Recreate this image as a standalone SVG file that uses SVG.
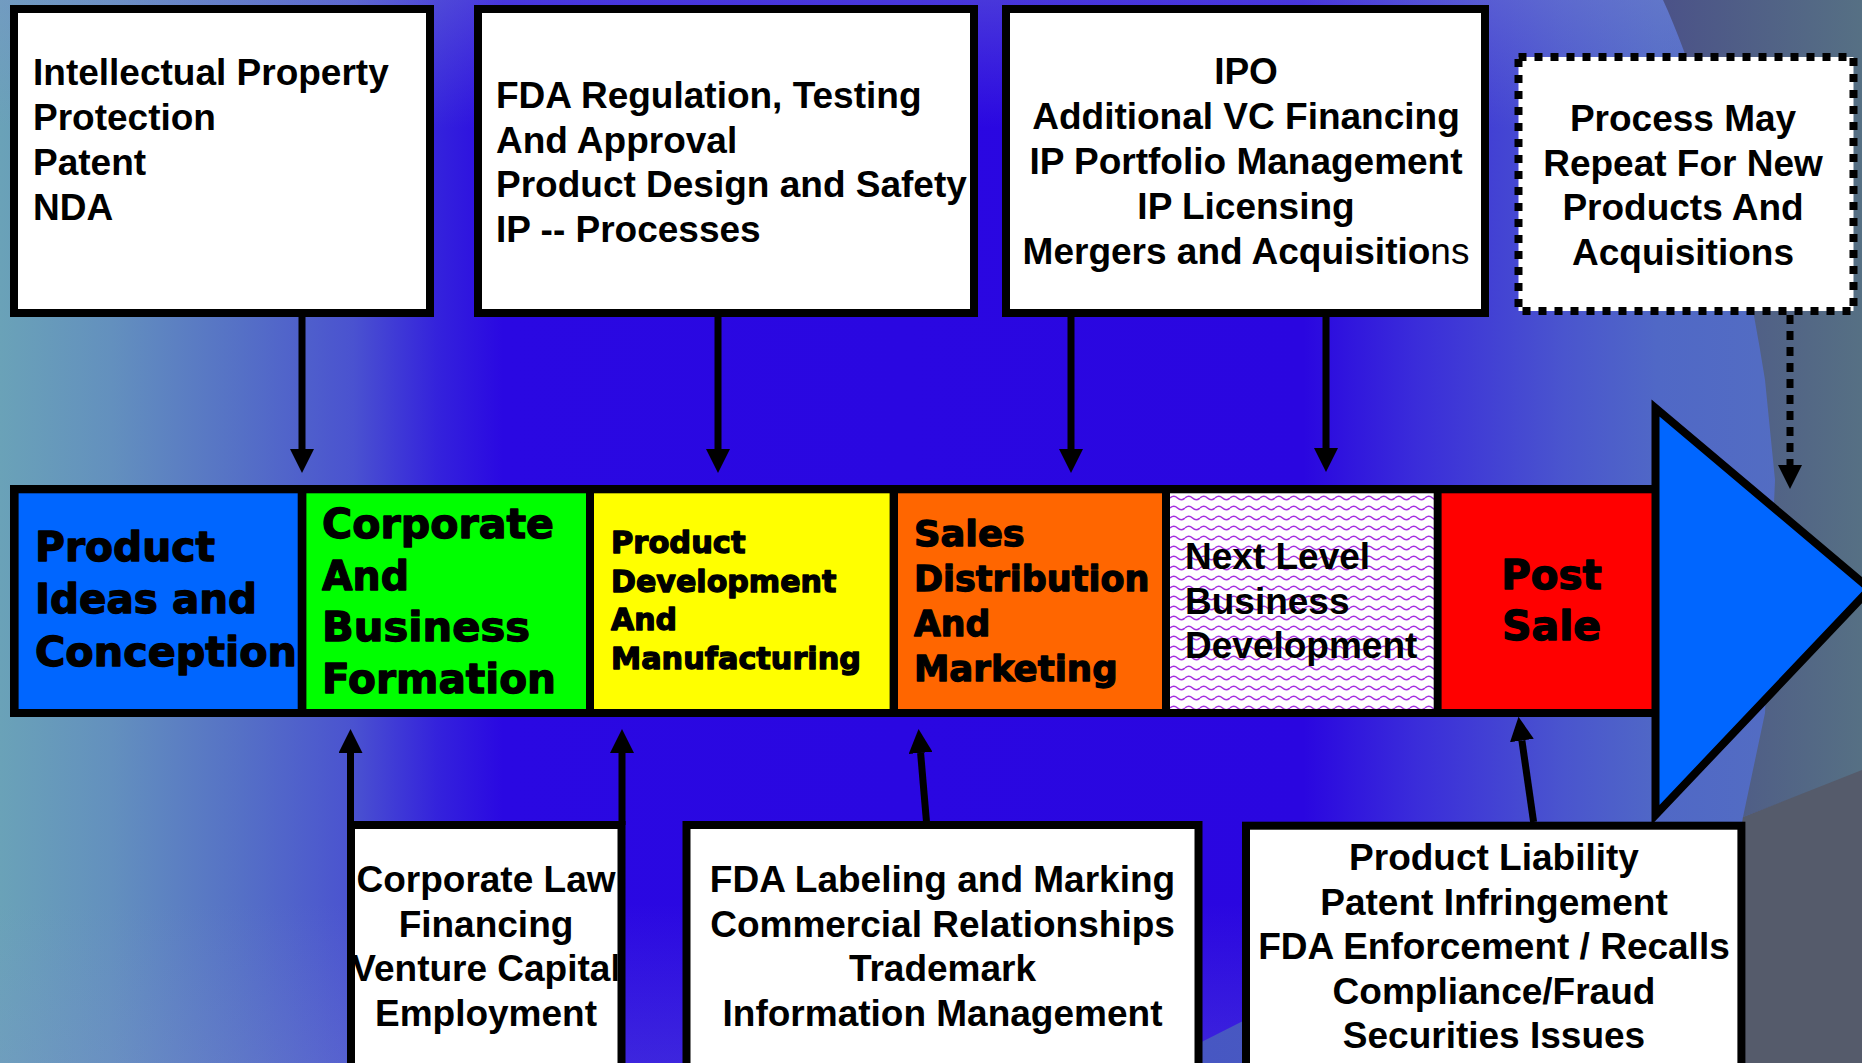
<svg xmlns="http://www.w3.org/2000/svg" width="1862" height="1063" viewBox="0 0 1862 1063">
<style>
.t{font-family:"Liberation Sans",Arial,sans-serif;font-weight:bold;font-size:37px;fill:#000}
.c{text-anchor:middle}
.h{font-family:"DejaVu Sans","Liberation Sans",sans-serif;font-weight:bold;fill:#000;stroke:#000;stroke-width:1.3;stroke-linejoin:round}
.box{fill:#fff;stroke:#000;stroke-width:8}
.frame{fill:none;stroke:#000;stroke-width:8}
.arr{stroke:#000;stroke-width:7;fill:none}
</style>
<defs>
<linearGradient id="bg" x1="0" y1="0" x2="1" y2="0">
<stop offset="0" stop-color="#6AA2B8"/>
<stop offset="0.06" stop-color="#6390BE"/>
<stop offset="0.13" stop-color="#5570C6"/>
<stop offset="0.19" stop-color="#4A52D0"/>
<stop offset="0.235" stop-color="#3422DC"/>
<stop offset="0.27" stop-color="#2A08E2"/>
<stop offset="0.70" stop-color="#2A06E0"/>
<stop offset="0.76" stop-color="#3A2CDA"/>
<stop offset="0.84" stop-color="#4A55CE"/>
<stop offset="0.89" stop-color="#5068C6"/>
<stop offset="1" stop-color="#5570C0"/>
</linearGradient>
<linearGradient id="vshade" x1="0" y1="0" x2="0" y2="1">
<stop offset="0" stop-color="#8090D0" stop-opacity="0.35"/>
<stop offset="0.12" stop-color="#8090D0" stop-opacity="0"/>
<stop offset="0.85" stop-color="#8090D0" stop-opacity="0"/>
<stop offset="1" stop-color="#8090D0" stop-opacity="0.22"/>
</linearGradient>
<linearGradient id="grey" x1="0" y1="0" x2="1" y2="0">
<stop offset="0" stop-color="#4B5288"/>
<stop offset="1" stop-color="#567084"/>
</linearGradient>
<linearGradient id="swoosh" x1="0" y1="0" x2="1" y2="0">
<stop offset="0" stop-color="#4656C4"/>
<stop offset="1" stop-color="#5262B4"/>
</linearGradient>
<pattern id="wave" width="15" height="10" patternUnits="userSpaceOnUse" x="1170" y="493">
<rect width="15" height="10" fill="#fff"/>
<path d="M0,5 Q3.75,1.5 7.5,5 T15,5" fill="none" stroke="#A530E0" stroke-width="1.6"/>
</pattern>
<marker id="ah" viewBox="0 -12 24 24" refX="0" refY="0" markerWidth="24" markerHeight="24" markerUnits="userSpaceOnUse" orient="auto">
<path d="M0,-12 L24,0 L0,12 Z" fill="#000"/>
</marker>
<clipPath id="clipB1"><rect x="355" y="829" width="262.5" height="240"/></clipPath>
</defs>

<g id="background">
<rect x="0" y="0" width="1862" height="1063" fill="url(#bg)"/>
<rect x="0" y="0" width="1862" height="1063" fill="url(#vshade)"/>
<path d="M1663,0 C1700,80 1740,220 1765,380 L1775,480 L1765,713 L1743,817 L1862,772 L1862,0 Z" fill="url(#grey)"/>
<path d="M1743,817 L1862,770 L1862,1063 L1700,1063 Z" fill="#555B6B"/>
<path d="M1160,1063 L1245,1020 L1745,828 L1745,1063 Z" fill="url(#swoosh)"/>
</g>

<g id="box-ip">
<rect class="box" x="14" y="9" width="416" height="304"/>
<text class="t"><tspan x="33" y="85">Intellectual Property</tspan><tspan x="33" y="130">Protection</tspan><tspan x="33" y="175">Patent</tspan><tspan x="33" y="220">NDA</tspan></text>
</g>

<g id="box-fda">
<rect class="box" x="478" y="9" width="496" height="304"/>
<text class="t"><tspan x="496" y="108">FDA Regulation, Testing</tspan><tspan x="496" y="153">And Approval</tspan><tspan x="496" y="197">Product Design and Safety</tspan><tspan x="496" y="242">IP -- Processes</tspan></text>
</g>

<g id="box-ipo">
<rect class="box" x="1006" y="9" width="479" height="304"/>
<text class="t c"><tspan x="1246" y="84">IPO</tspan><tspan x="1246" y="129">Additional VC Financing</tspan><tspan x="1246" y="174">IP Portfolio Management</tspan><tspan x="1246" y="219">IP Licensing</tspan><tspan x="1246" y="264">Mergers and Acquisitio<tspan font-weight="normal">ns</tspan></tspan></text>
</g>

<g id="box-repeat">
<rect class="box" x="1518.5" y="57" width="335" height="254" stroke-dasharray="8 8"/>
<text class="t c"><tspan x="1683" y="131">Process May</tspan><tspan x="1683" y="176">Repeat For New</tspan><tspan x="1683" y="220">Products And</tspan><tspan x="1683" y="265">Acquisitions</tspan></text>
</g>

<g id="band">
<rect x="10" y="485" width="1652" height="232" fill="#000"/>
<g id="stage-ideas">
<rect x="18.6" y="493.3" width="279.1" height="215.7" fill="#0066FF"/>
<text class="h" font-size="41"><tspan x="35" y="561" textLength="180" lengthAdjust="spacingAndGlyphs">Product</tspan><tspan x="35" y="613" textLength="222" lengthAdjust="spacingAndGlyphs">Ideas and</tspan><tspan x="35" y="666" textLength="262" lengthAdjust="spacingAndGlyphs">Conception</tspan></text>
</g>
<g id="stage-corporate">
<rect x="306.4" y="493.3" width="279.6" height="215.7" fill="#00FF00"/>
<text class="h" font-size="41"><tspan x="322" y="538" textLength="232" lengthAdjust="spacingAndGlyphs">Corporate</tspan><tspan x="322" y="590" textLength="87" lengthAdjust="spacingAndGlyphs">And</tspan><tspan x="322" y="641" textLength="208" lengthAdjust="spacingAndGlyphs">Business</tspan><tspan x="322" y="693" textLength="234" lengthAdjust="spacingAndGlyphs">Formation</tspan></text>
</g>
<g id="stage-product">
<rect x="594" y="493.3" width="295.6" height="215.7" fill="#FFFF00"/>
<text class="h" font-size="30"><tspan x="611" y="553" textLength="134.5" lengthAdjust="spacingAndGlyphs">Product</tspan><tspan x="611" y="592" textLength="225.4" lengthAdjust="spacingAndGlyphs">Development</tspan><tspan x="611" y="630" textLength="66" lengthAdjust="spacingAndGlyphs">And</tspan><tspan x="611" y="669" textLength="250" lengthAdjust="spacingAndGlyphs">Manufacturing</tspan></text>
</g>
<g id="stage-sales">
<rect x="898" y="493.3" width="264" height="215.7" fill="#FF6600"/>
<text class="h" font-size="36"><tspan x="914" y="546" textLength="110.7" lengthAdjust="spacingAndGlyphs">Sales</tspan><tspan x="914" y="591" textLength="235.3" lengthAdjust="spacingAndGlyphs">Distribution</tspan><tspan x="914" y="636" textLength="76.3" lengthAdjust="spacingAndGlyphs">And</tspan><tspan x="914" y="681" textLength="203.6" lengthAdjust="spacingAndGlyphs">Marketing</tspan></text>
</g>
<g id="stage-next">
<rect x="1170" y="493.3" width="263.7" height="215.7" fill="url(#wave)"/>
<text class="t" font-size="36"><tspan x="1185" y="569">Next Level</tspan><tspan x="1185" y="613.5">Business</tspan><tspan x="1185" y="658">Development</tspan></text>
</g>
<g id="stage-post">
<rect x="1441.6" y="493.3" width="210.8" height="215.7" fill="#FF0000"/>
<text class="h c" font-size="40"><tspan x="1551.5" y="589" textLength="100.4" lengthAdjust="spacingAndGlyphs">Post</tspan><tspan x="1551.5" y="640" textLength="99" lengthAdjust="spacingAndGlyphs">Sale</tspan></text>
</g>
</g>

<g id="arrowhead-shape">
<polygon points="1655.5,408 1870,589 1655.5,815" fill="#0066FF" stroke="#000" stroke-width="8"/>
</g>

<g id="box-corporate-law">
<rect x="351" y="825" width="270.5" height="260" fill="#fff"/>
<text class="t c" clip-path="url(#clipB1)"><tspan x="486" y="892">Corporate Law</tspan><tspan x="486" y="937">Financing</tspan><tspan x="486" y="981">Venture Capital</tspan><tspan x="486" y="1026">Employment</tspan></text>
<rect class="frame" x="351" y="825" width="270.5" height="260"/>
</g>

<g id="box-labeling">
<rect class="box" x="686.5" y="825" width="512" height="260"/>
<text class="t c"><tspan x="942.5" y="892">FDA Labeling and Marking</tspan><tspan x="942.5" y="937">Commercial Relationships</tspan><tspan x="942.5" y="981">Trademark</tspan><tspan x="942.5" y="1026">Information Management</tspan></text>
</g>

<g id="box-liability">
<rect class="box" x="1246" y="825.7" width="495.4" height="260"/>
<text class="t c"><tspan x="1494" y="870">Product Liability</tspan><tspan x="1494" y="914.5">Patent Infringement</tspan><tspan x="1494" y="959">FDA Enforcement / Recalls</tspan><tspan x="1494" y="1003.5">Compliance/Fraud</tspan><tspan x="1494" y="1048">Securities Issues</tspan></text>
</g>

<g id="connectors">
<line class="arr" x1="302" y1="317" x2="302" y2="449" marker-end="url(#ah)"/>
<line class="arr" x1="718" y1="317" x2="718" y2="449" marker-end="url(#ah)"/>
<line class="arr" x1="1071" y1="317" x2="1071" y2="449" marker-end="url(#ah)"/>
<line class="arr" x1="1326" y1="317" x2="1326" y2="448" marker-end="url(#ah)"/>
<line class="arr" x1="1790" y1="315" x2="1790" y2="465" stroke-dasharray="9 7" marker-end="url(#ah)"/>
<line class="arr" x1="350.5" y1="825" x2="350.5" y2="753" marker-end="url(#ah)"/>
<line class="arr" x1="622" y1="825" x2="622" y2="753" marker-end="url(#ah)"/>
<line class="arr" x1="926.5" y1="822" x2="920.6" y2="752.9" marker-end="url(#ah)"/>
<line class="arr" x1="1533.6" y1="822" x2="1521.9" y2="740.5" marker-end="url(#ah)"/>
</g>
</svg>
